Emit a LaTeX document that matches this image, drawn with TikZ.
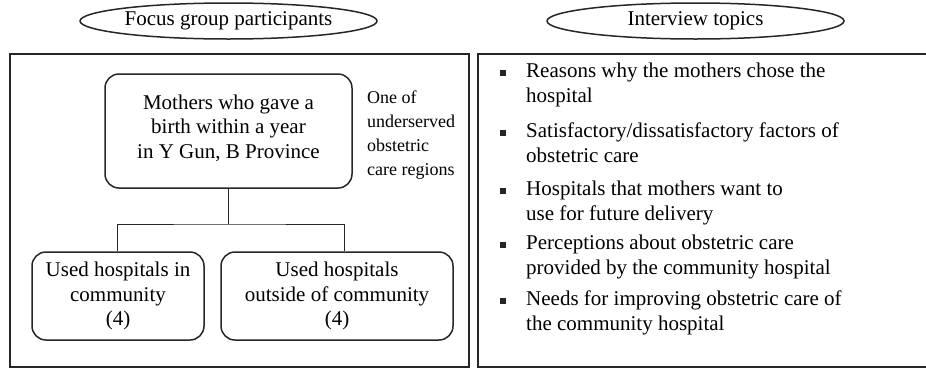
\documentclass[tikz,border=0pt]{standalone}
\usepackage{fontspec}
\setmainfont{Liberation Serif}
\usetikzlibrary{shapes.geometric}
\definecolor{ink}{HTML}{262626}
\tikzset{
  main/.style={font=\fontsize{21}{24.5}\selectfont},
  header/.style={ellipse, draw=ink, line width=1.5pt, minimum width=297, minimum height=36, inner sep=0pt, main},
  panel/.style={draw=ink, line width=1.5pt},
  groupbox/.style={draw=ink, line width=1.5pt, rounded corners=14pt, align=center, inner sep=0pt, main},
  link/.style={draw=ink, line width=0.9pt},
  note/.style={anchor=north west, align=left, inner sep=0pt, font=\fontsize{18}{23.8}\selectfont},
  bulletmark/.style={fill=ink, minimum size=5.5pt, inner sep=0pt},
  topic/.style={anchor=north west, align=left, inner sep=0pt, main}
}
\begin{document}
\begin{tikzpicture}[x=1pt, y=-1pt]
\useasboundingbox (0,0) rectangle (926,370);
\clip (0,0) rectangle (926,370);

% section headers
\node[header] (hFocus) at (228.5,21) {Focus group participants};
\node[header] (hTopics) at (695.5,21) {Interview topics};

% panels
\draw[panel] (10,54) rectangle (469,367);
\draw[panel] (478,54) rectangle (940,367);

% focus group tree
\node[groupbox, minimum width=247, minimum height=114] (mothers) at (228.5,131) {};
\node[main, align=center, inner sep=0pt] (mothersText) at (228.5,128)
  {Mothers who gave a\\birth within a year\\in Y Gun, B Province};
\node[note] (region) at (367,91) {One of\\underserved\\obstetric\\care regions};

\node[groupbox, minimum width=172, minimum height=88] (inside) at (118,296)
  {Used hospitals in\\community\\(4)};
\node[groupbox, minimum width=232, minimum height=88] (outside) at (337,296)
  {Used hospitals\\outside of community\\(4)};

\coordinate (split) at (228.5,224);
\draw[link] (mothers.south) -- (split);
\draw[link] (inside.north -| 117,0) |- (split) -| (outside.north -| 344,0);

% interview topics
\foreach \n/\y/\txt in {
  1/63/{Reasons why the mothers chose the\\hospital},
  2/123/{Satisfactory/dissatisfactory factors of\\obstetric care},
  3/181/{Hospitals that mothers want to\\use for future delivery},
  4/235/{Perceptions about obstetric care\\provided by the community hospital},
  5/291/{Needs for improving obstetric care of\\the community hospital}} {
  \node[bulletmark] (b\n) at (503,\y+10) {};
  \node[topic] (t\n) at (526,\y) {\txt};
}
\end{tikzpicture}
\end{document}
